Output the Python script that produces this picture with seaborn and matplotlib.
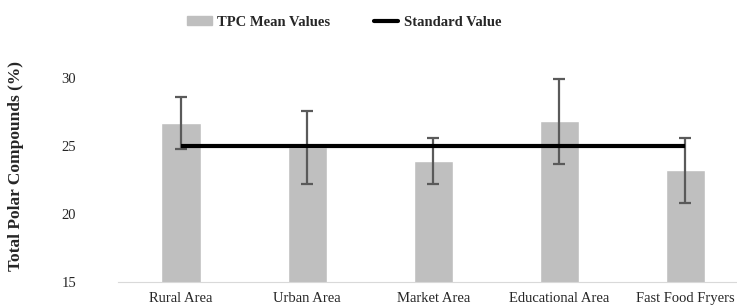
import numpy as np
import pandas as pd
import matplotlib
matplotlib.use("Agg")
import matplotlib.pyplot as plt
import seaborn as sns
from matplotlib.patches import Patch
from matplotlib.lines import Line2D

# data
categories = ["Rural Area", "Urban Area", "Market Area", "Educational Area", "Fast Food Fryers"]
tpc_mean = [26.7, 24.9, 23.9, 26.8, 23.2]
tpc_err = [1.9, 2.7, 1.7, 3.1, 2.4]
standard = [25, 25, 25, 25, 25]

sns.set_style("white")
plt.rcParams['font.family'] = ['Liberation Serif', 'DejaVu Serif']

df = pd.DataFrame({"area": categories, "tpc": tpc_mean})

fig = plt.figure(figsize=(7.37, 3.07), dpi=100)
ax = fig.add_axes([0.160, 0.0814, 0.840, 0.709])

sns.barplot(data=df, x="area", y="tpc", color="#BFBFBF", saturation=1,
            width=0.31, errorbar=None, ax=ax)
pos = np.arange(len(categories))
ax.errorbar(pos, tpc_mean, yerr=tpc_err, fmt="none", ecolor="#5A5A5A",
            elinewidth=1.6, capsize=4, capthick=1.6, zorder=3)
ax.plot(pos, standard, color="black", lw=3, zorder=4, solid_capstyle="butt")

ax.set_ylim(15, 31)
ax.set_xlim(-0.5, 4.41)
ax.set_yticks([15, 20, 25, 30])
ax.set_xlabel("")
ax.set_ylabel("")
ax.tick_params(axis="x", length=0, labelsize=10.5, pad=7)
ax.tick_params(axis="y", length=0, labelsize=10.5, pad=30)
for s in ["top", "right", "left"]:
    ax.spines[s].set_visible(False)
ax.spines["bottom"].set_color("#D9D9D9")

fig.text(0.022, 0.459, "Total Polar Compounds (%)", rotation=90, ha="center",
         va="center", fontsize=12.5, fontweight="bold")

handles = [Patch(color="#BFBFBF", label="TPC Mean Values"),
           Line2D([0], [0], color="black", lw=3, label="Standard Value")]
fig.legend(handles=handles, loc="center", bbox_to_anchor=(344 / 737, 1 - 22 / 307), ncol=2,
           frameon=False, prop={"weight": "bold", "size": 10.5},
           handlelength=1.7, handleheight=0.6, handletextpad=0.35, columnspacing=3.0)

fig.savefig("out.png", dpi=100)
